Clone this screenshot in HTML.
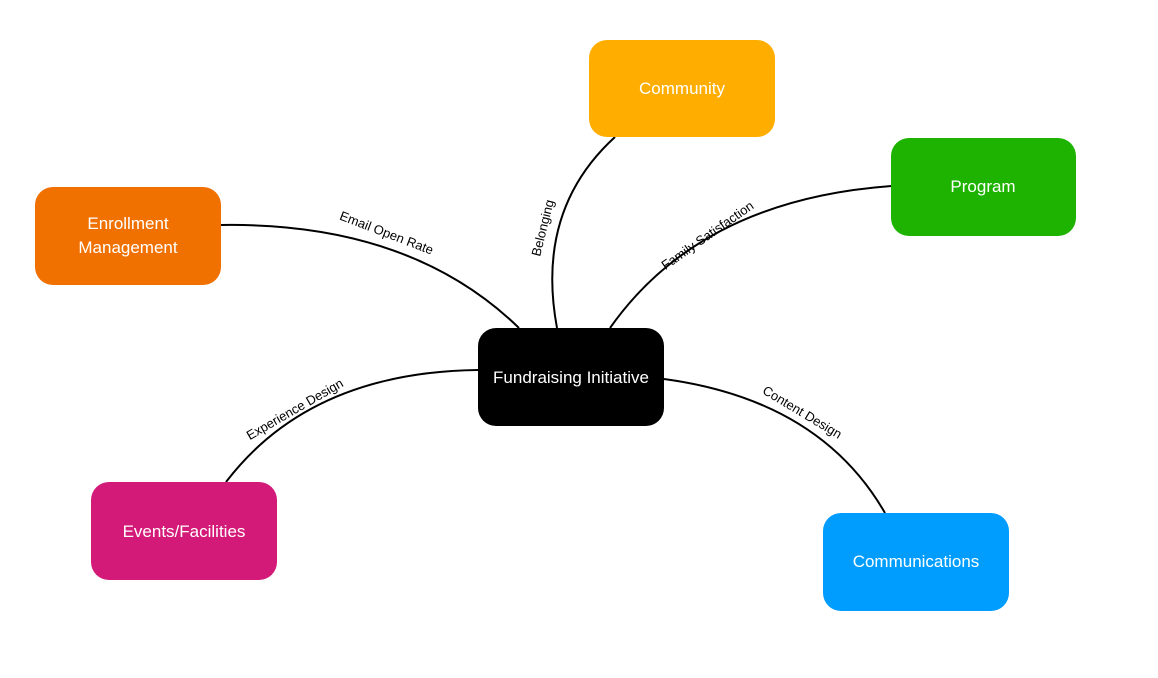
<!DOCTYPE html>
<html><head><meta charset="utf-8"><style>
html,body{margin:0;padding:0;background:#fff;width:1158px;height:678px;overflow:hidden}
svg{display:block}
.n{font-family:"Liberation Sans",sans-serif;font-size:17px;fill:#fff;text-anchor:middle}
.l{font-family:"Liberation Sans",sans-serif;font-size:13px;fill:#000;text-anchor:middle}
</style></head><body>
<svg width="1158" height="678" viewBox="0 0 1158 678">
<g fill="none" stroke="#000" stroke-width="2">
<path d="M221,225 Q410,222 519,328"/>
<path d="M615,137 Q535,210 557,328"/>
<path d="M891,186 Q700,200 610,328"/>
<path d="M478,370 Q310,372 226,482"/>
<path d="M664,379 Q820,400 885,513"/>
</g>
<text class="l" transform="translate(385,237) rotate(21)">Email Open Rate</text>
<text class="l" transform="translate(547,229) rotate(-76)">Belonging</text>
<text class="l" transform="translate(710,239) rotate(-35)">Family Satisfaction</text>
<text class="l" transform="translate(297,413) rotate(-30)">Experience Design</text>
<text class="l" transform="translate(800,416) rotate(31)">Content Design</text>
<rect x="589" y="40" width="186" height="97" rx="18" fill="#FFAE00"/>
<text class="n" x="682" y="94">Community</text>
<rect x="891" y="138" width="185" height="98" rx="18" fill="#1EB300"/>
<text class="n" x="983" y="192">Program</text>
<rect x="35" y="187" width="186" height="98" rx="18" fill="#F07000"/>
<text class="n" x="128" y="229">Enrollment</text>
<text class="n" x="128" y="253">Management</text>
<rect x="478" y="328" width="186" height="98" rx="18" fill="#000"/>
<text class="n" x="571" y="383">Fundraising Initiative</text>
<rect x="91" y="482" width="186" height="98" rx="18" fill="#D41A78"/>
<text class="n" x="184" y="537">Events/Facilities</text>
<rect x="823" y="513" width="186" height="98" rx="18" fill="#009DFF"/>
<text class="n" x="916" y="567">Communications</text>
</svg>
</body></html>
